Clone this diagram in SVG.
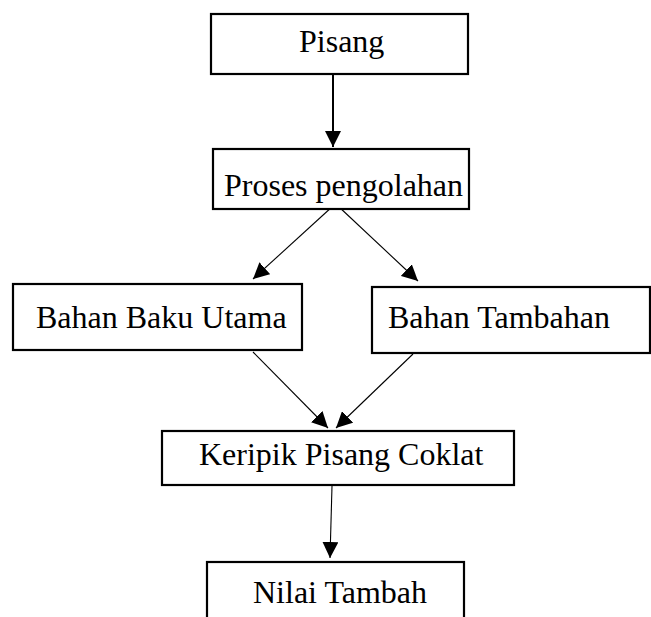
<svg xmlns="http://www.w3.org/2000/svg" width="651" height="617" viewBox="0 0 651 617">
  <style>
    .box { fill: #ffffff; stroke: #000000; stroke-width: 2.2; }
    .lbl { font-family: "Liberation Serif", "Times New Roman", serif; font-size: 32px; fill: #000000; }
    .thin { stroke: #000000; stroke-width: 1.1; fill: none; }
    .thick { stroke: #000000; stroke-width: 2; fill: none; }
  </style>
  <defs>
    <marker id="ah" viewBox="0 0 16 16" refX="16" refY="8" markerWidth="16" markerHeight="16" markerUnits="userSpaceOnUse" orient="auto">
      <path d="M0,0 L16,8 L0,16 Z" fill="#000000"/>
    </marker>
  </defs>
  <rect width="651" height="617" fill="#ffffff"/>
  <g id="connectors">
    <line class="thick" x1="333" y1="74" x2="333" y2="147" marker-end="url(#ah)"/>
    <line class="thin" x1="333" y1="206" x2="253" y2="279" marker-end="url(#ah)"/>
    <line class="thin" x1="338" y1="206" x2="418" y2="281" marker-end="url(#ah)"/>
    <line class="thin" x1="253" y1="352" x2="328" y2="428" marker-end="url(#ah)"/>
    <line class="thin" x1="413" y1="354" x2="336" y2="428" marker-end="url(#ah)"/>
    <line class="thin" x1="332" y1="486" x2="330" y2="558" marker-end="url(#ah)"/>
  </g>
  <g id="pisang">
    <rect class="box" x="211" y="14" width="257" height="60"/>
    <text class="lbl" x="299" y="52">Pisang</text>
  </g>
  <g id="proses">
    <rect class="box" x="213" y="149" width="256" height="60"/>
    <text class="lbl" x="224" y="196">Proses pengolahan</text>
  </g>
  <g id="bahan-baku">
    <rect class="box" x="13" y="284" width="289" height="66"/>
    <text class="lbl" x="36" y="328">Bahan Baku Utama</text>
  </g>
  <g id="bahan-tambahan">
    <rect class="box" x="372" y="287" width="278" height="66"/>
    <text class="lbl" x="388" y="328">Bahan Tambahan</text>
  </g>
  <g id="keripik">
    <rect class="box" x="162" y="431" width="352" height="54"/>
    <text class="lbl" x="199" y="465">Keripik Pisang Coklat</text>
  </g>
  <g id="nilai">
    <rect class="box" x="207" y="562" width="257" height="70"/>
    <text class="lbl" x="253" y="603">Nilai Tambah</text>
  </g>
</svg>
